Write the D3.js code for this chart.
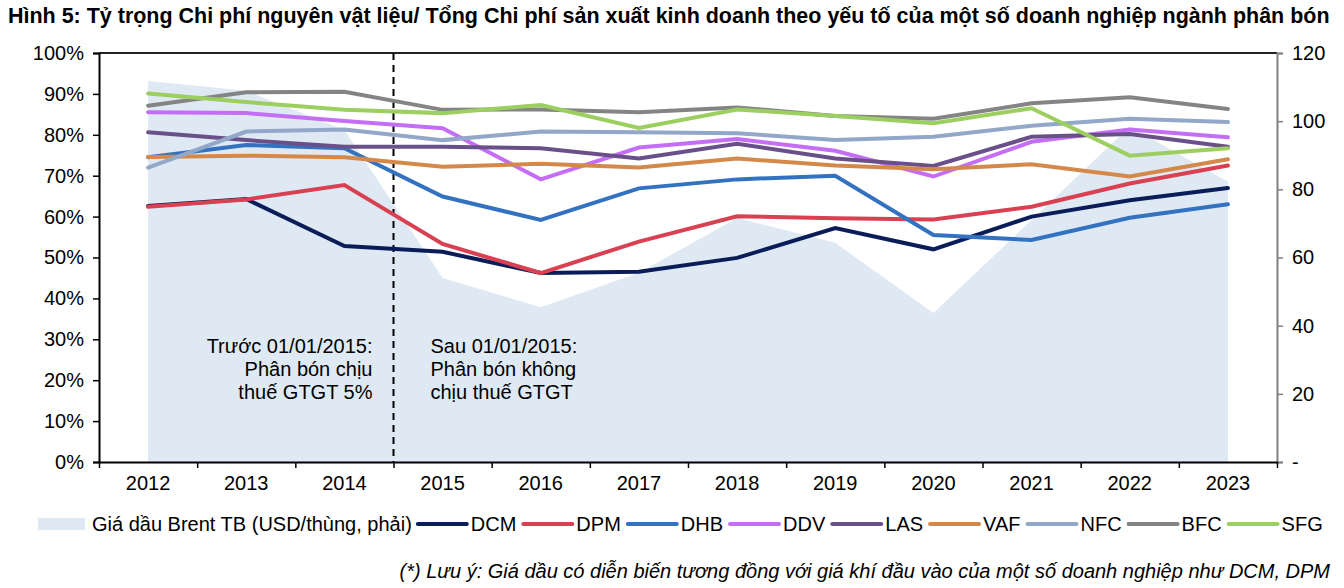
<!DOCTYPE html>
<html>
<head>
<meta charset="utf-8">
<script src="https://cdn.jsdelivr.net/npm/d3@7"></script>
<style>
  body { margin: 0; background: #fff; }
  text { font-family: "Liberation Sans", Arial, sans-serif; fill: #000; }
</style>
</head>
<body>
<div id="chart"></div>
<script>
// data
var years = ["2012","2013","2014","2015","2016","2017","2018","2019","2020","2021","2022","2023"];
var brent = [111.8, 108.9, 97.4, 54.0, 45.4, 55.5, 71.6, 64.3, 43.7, 71.0, 98.4, 82.2];
var DCM = [62.6, 64.3, 52.8, 51.4, 46.2, 46.5, 49.9, 57.2, 52.0, 60.0, 64.0, 67.0];
var DPM = [62.4, 64.2, 67.7, 53.3, 46.2, 53.9, 60.1, 59.6, 59.3, 62.4, 68.1, 72.5];
var DHB = [74.5, 77.5, 76.7, 64.9, 59.2, 66.9, 69.1, 70.0, 55.5, 54.3, 59.7, 63.0];
var DDV = [85.5, 85.3, 83.4, 81.6, 69.1, 76.9, 79.0, 76.1, 69.8, 78.3, 81.3, 79.4];
var LAS = [80.6, 78.7, 77.1, 77.1, 76.7, 74.2, 77.8, 74.2, 72.4, 79.5, 80.2, 77.1];
var VAF = [74.6, 74.9, 74.5, 72.2, 72.9, 72.0, 74.2, 72.5, 71.6, 72.8, 69.8, 74.0];
var NFC = [72.0, 80.8, 81.3, 78.7, 80.8, 80.6, 80.4, 78.7, 79.5, 82.2, 83.9, 83.1];
var BFC = [87.1, 90.4, 90.5, 86.1, 86.2, 85.5, 86.7, 84.6, 83.9, 87.7, 89.2, 86.3];
var SFG = [90.1, 88.0, 86.1, 85.3, 87.3, 81.7, 86.2, 84.6, 82.8, 86.5, 74.9, 76.7];

var seriesNames = ["DCM","DPM","DHB","DDV","LAS","VAF","NFC","BFC","SFG"];
var seriesValues = [DCM, DPM, DHB, DDV, LAS, VAF, NFC, BFC, SFG];
var seriesColors = ["#0b1d58","#d94152","#3372c0","#c46ef5","#6a5089","#d4894a","#93a7c9","#848484","#9ccf60"];

var pctTicks = [0, .1, .2, .3, .4, .5, .6, .7, .8, .9, 1];
var rightTicks = [0, 20, 40, 60, 80, 100, 120];

var title = "Hình 5: Tỷ trọng Chi phí nguyên vật liệu/ Tổng Chi phí sản xuất kinh doanh theo yếu tố của một số doanh nghiệp ngành phân bón";
var noteLeft = ["Trước 01/01/2015:", "Phân bón chịu", "thuế GTGT 5%"];
var noteRight = ["Sau 01/01/2015:", "Phân bón không", "chịu thuế GTGT"];
var brentLabel = "Giá dầu Brent TB (USD/thùng, phải)";
var footnote = "(*) Lưu ý: Giá dầu có diễn biến tương đồng với giá khí đầu vào của một số doanh nghiệp như DCM, DPM";

var W = 1344, H = 588;
var plotLeft = 99, plotRight = 1277, plotTop = 53, plotBottom = 462;
var fs = 20;

var svg = d3.select("#chart").append("svg")
    .attr("width", W)
    .attr("height", H);

var x = d3.scaleBand().domain(years).range([plotLeft, plotRight]);
var xc = function(d) { return x(d) + x.bandwidth() / 2 };
var xEdge = d3.scaleLinear().domain([0, years.length]).range([plotLeft, plotRight]);
var yL = d3.scaleLinear().domain([0, 1]).range([plotBottom, plotTop]);
var yR = d3.scaleLinear().domain([0, 120]).range([plotBottom, plotTop]);

// title, sized to fill the same width as the reference
var tt = svg.append("text")
    .attr("x", 8)
    .attr("y", 23)
    .attr("font-size", 18)
    .attr("font-weight", "bold")
    .attr("fill", "#222")
    .text(title);
var tw = tt.node().getComputedTextLength();
tt.attr("font-size", 18 * 1322 / tw);

// brent area (right axis)
svg.append("path")
    .datum(brent)
    .attr("fill", "#dfe9f4")
    .attr("d", d3.area()
        .x(function(d, i) { return xc(years[i]) })
        .y0(yR(0))
        .y1(function(d) { return yR(d) }));

// top frame line
svg.append("line")
    .attr("x1", plotLeft).attr("x2", plotRight)
    .attr("y1", plotTop).attr("y2", plotTop)
    .attr("stroke", "#222")
    .attr("stroke-width", 2);

// dashed divider between 2014 and 2015
svg.append("line")
    .attr("x1", x("2015")).attr("x2", x("2015"))
    .attr("y1", plotTop).attr("y2", plotBottom)
    .attr("stroke", "#000")
    .attr("stroke-width", 2)
    .style("stroke-dasharray", "7, 5");

// annotations
var noteY = [346, 369, 392];
svg.append("g").selectAll("text")
    .data(noteLeft).enter().append("text")
    .attr("x", x("2015") - 21)
    .attr("y", function(d, i) { return noteY[i] + 7 })
    .attr("text-anchor", "end")
    .attr("font-size", fs)
    .text(function(d) { return d });
svg.append("g").selectAll("text")
    .data(noteRight).enter().append("text")
    .attr("x", x("2015") + 37)
    .attr("y", function(d, i) { return noteY[i] + 7 })
    .attr("font-size", fs)
    .text(function(d) { return d });

// lines
var line = d3.line()
    .x(function(d, i) { return xc(years[i]) })
    .y(function(d) { return yL(d / 100) });

svg.append("g").selectAll("path")
    .data(seriesValues).enter().append("path")
    .attr("fill", "none")
    .attr("stroke", function(d, i) { return seriesColors[i] })
    .attr("stroke-width", 4)
    .attr("stroke-linecap", "round")
    .attr("d", line);

// left axis
var gl = svg.append("g")
    .attr("transform", "translate(" + plotLeft + ",0)")
    .call(d3.axisLeft(yL).tickValues(pctTicks).tickFormat(d3.format(".0%")).tickSize(6).tickPadding(9));
gl.select(".domain").attr("stroke", "#000").attr("stroke-width", 2);
gl.selectAll(".tick line").attr("stroke", "#000").attr("stroke-width", 1.5);
gl.selectAll("text").attr("font-size", fs).attr("font-family", "Liberation Sans, Arial, sans-serif");

// right axis
var gr = svg.append("g")
    .attr("transform", "translate(" + plotRight + ",0)")
    .call(d3.axisRight(yR).tickValues(rightTicks).tickFormat(function(d) { return d === 0 ? "-" : d }).tickSize(6).tickPadding(9));
gr.select(".domain").attr("stroke", "#808080").attr("stroke-width", 2);
gr.selectAll(".tick line").attr("stroke", "#808080").attr("stroke-width", 1.5);
gr.selectAll("text").attr("font-size", fs).attr("font-family", "Liberation Sans, Arial, sans-serif");

// bottom axis: labels at centres, ticks at band edges
var gb = svg.append("g")
    .attr("transform", "translate(0," + plotBottom + ")")
    .call(d3.axisBottom(x).tickSize(0).tickPadding(14));
gb.select(".domain").remove();
gb.selectAll("text").attr("font-size", fs).attr("font-family", "Liberation Sans, Arial, sans-serif");

var ge = svg.append("g")
    .attr("transform", "translate(0," + plotBottom + ")")
    .call(d3.axisBottom(xEdge).tickValues(d3.range(years.length + 1)).tickFormat("").tickSize(6).tickSizeOuter(0));
ge.select(".domain").attr("stroke", "#000").attr("stroke-width", 2);
ge.selectAll(".tick line").attr("stroke", "#000").attr("stroke-width", 1.5);

// legend
var legend = svg.append("g").attr("transform", "translate(0,524)");
var lx = 38;
legend.append("rect")
    .attr("x", lx).attr("y", -6)
    .attr("width", 47).attr("height", 12)
    .attr("fill", "#dfe9f4");
lx += 47 + 7;
var t0 = legend.append("text")
    .attr("x", lx).attr("y", 7)
    .attr("font-size", fs)
    .text(brentLabel);
lx += t0.node().getComputedTextLength() + 4;

seriesNames.forEach(function(name, i) {
    legend.append("line")
        .attr("x1", lx + 2).attr("x2", lx + 51)
        .attr("y1", 0).attr("y2", 0)
        .attr("stroke", seriesColors[i])
        .attr("stroke-width", 4)
        .attr("stroke-linecap", "round");
    lx += 55;
    var t = legend.append("text")
        .attr("x", lx).attr("y", 7)
        .attr("font-size", fs)
        .text(name);
    lx += t.node().getComputedTextLength() + 5;
});

// footnote
svg.append("text")
    .attr("x", 1330)
    .attr("y", 578)
    .attr("text-anchor", "end")
    .attr("font-size", fs)
    .attr("font-style", "italic")
    .text(footnote);
</script>
</body>
</html>
